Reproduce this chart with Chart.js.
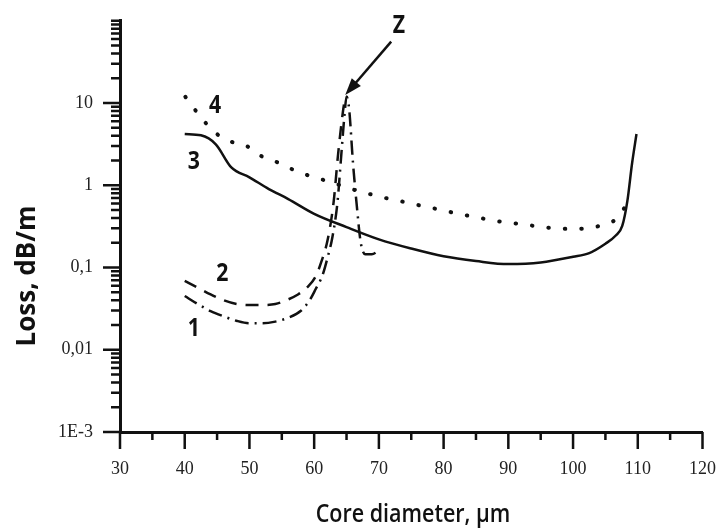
<!DOCTYPE html>
<html>
<head>
<meta charset="utf-8">
<script src="https://cdn.jsdelivr.net/npm/chart.js@4.4.1/dist/chart.umd.min.js"></script>
<style>
  html, body { margin: 0; padding: 0; background: #fff; }
  canvas { display: block; }
</style>
</head>
<body>
<canvas id="lossChart" width="725" height="528"></canvas>
<script>
// Curve 1 (dash-dot), goes through the resonance Z and comes back down
const core1 = [40, 42, 44, 46, 48, 50, 52, 54, 56, 58, 59.3, 60.2, 61.3, 62.1, 62.8, 63.6, 64.2, 64.7, 65.0, 65.4, 66.0, 66.6, 67.2, 67.9, 68.9, 70.0];
const loss1 = [0.045, 0.036, 0.0295, 0.0255, 0.0225, 0.021, 0.021, 0.022, 0.0245, 0.030, 0.040, 0.054, 0.081, 0.135, 0.23, 0.62, 2.4, 7.4, 12, 8.5, 1.86, 0.55, 0.2, 0.145, 0.145, 0.16];

// Curve 2 (dashed)
const core2 = [40, 42, 44, 46, 48, 50, 52, 54, 56, 57.5, 59, 60.2, 61.1, 62.1, 63.0, 63.7, 64.4, 64.8];
const loss2 = [0.069, 0.057, 0.047, 0.040, 0.036, 0.035, 0.035, 0.036, 0.041, 0.047, 0.058, 0.077, 0.117, 0.22, 0.62, 2.4, 7.4, 12];

// Curve 3 (solid)
const core3 = [40, 42.5, 44.8, 47.2, 50, 53, 56, 60, 65, 70, 75, 80, 85, 90, 95, 100, 102.5, 105, 106.6, 107.6, 108.4, 109.1, 109.8];
const loss3 = [4.2, 4.05, 3.15, 1.65, 1.25, 0.9, 0.68, 0.45, 0.31, 0.22, 0.17, 0.137, 0.12, 0.11, 0.115, 0.135, 0.15, 0.195, 0.245, 0.32, 0.65, 1.8, 4.2];

// Curve 4 (dotted)
const core4 = [40.1, 42.2, 44.5, 46.8, 49.4, 51.8, 54.4, 56.8, 59.3, 61.8, 66.6, 69.2, 71.7, 74.2, 76.7, 79.2, 81.7, 84.2, 86.7, 89.1, 91.6, 94.1, 96.6, 99.1, 101.6, 104, 106.6, 108.4];
const loss4 = [11.9, 7.2, 4.5, 3.47, 3.05, 2.27, 1.89, 1.54, 1.30, 1.14, 0.86, 0.76, 0.68, 0.62, 0.56, 0.51, 0.46, 0.42, 0.386, 0.358, 0.339, 0.32, 0.303, 0.295, 0.297, 0.32, 0.386, 0.6];

// Axis ticks
const xTickValues = [30, 40, 50, 60, 70, 80, 90, 100, 110, 120];
const xTickLabels = ['30', '40', '50', '60', '70', '80', '90', '100', '110', '120'];
const yTickValues = [0.001, 0.01, 0.1, 1, 10];
const yTickLabels = ['1E-3', '0,01', '0,1', '1', '10'];

// Curve labels and the arrow to the resonance, in data units
const curveNames = ['1', '2', '3', '4', 'Z'];
const curveNameX = [41.4, 45.8, 41.4, 44.7, 73.1];
const curveNameY = [0.0179, 0.0847, 1.95, 9.3, 87];
const arrowFrom = [71.9, 55.8];
const arrowTo = [64.8, 12.5];

function toPoints(xs, ys) {
    return xs.map((x, i) => ({ x: x, y: ys[i] }));
}

const ink = '#111';

const decorations = {
    id: 'decorations',
    afterDraw(chart) {
        const ctx = chart.ctx;
        const xs = chart.scales.x;
        const ys = chart.scales.y;
        const area = chart.chartArea;

        ctx.save();
        ctx.strokeStyle = ink;
        ctx.fillStyle = ink;
        ctx.lineWidth = 2.5;

        // tick marks outside the axes
        ctx.beginPath();
        for (let v = 30; v <= 120; v += 5) {
            const px = xs.getPixelForValue(v);
            const len = v % 10 === 0 ? 17 : 8;
            ctx.moveTo(px, area.bottom);
            ctx.lineTo(px, area.bottom + len);
        }
        for (let e = -3; e <= 2; e++) {
            for (let k = 1; k <= 9; k++) {
                const v = k * Math.pow(10, e);
                if (v > 100.0001) break;
                const py = ys.getPixelForValue(v);
                const len = (k === 1 && e < 2) ? 17 : 9;
                ctx.moveTo(area.left, py);
                ctx.lineTo(area.left - len, py);
            }
        }
        ctx.stroke();

        // curve names
        ctx.font = 'bold 25px "Open Sans", sans-serif';
        ctx.textAlign = 'center';
        ctx.textBaseline = 'middle';
        curveNames.forEach((t, i) => {
            ctx.save();
            ctx.translate(xs.getPixelForValue(curveNameX[i]), ys.getPixelForValue(curveNameY[i]));
            ctx.scale(0.85, 1);
            ctx.fillText(t, 0, 0);
            ctx.restore();
        });

        // arrow pointing at the resonance
        const x0 = xs.getPixelForValue(arrowFrom[0]);
        const y0 = ys.getPixelForValue(arrowFrom[1]);
        const x1 = xs.getPixelForValue(arrowTo[0]);
        const y1 = ys.getPixelForValue(arrowTo[1]);
        const ang = Math.atan2(y1 - y0, x1 - x0);
        const headLen = 17, headHalf = 6;
        ctx.lineWidth = 2.5;
        ctx.beginPath();
        ctx.moveTo(x0, y0);
        ctx.lineTo(x1 - Math.cos(ang) * headLen * 0.8, y1 - Math.sin(ang) * headLen * 0.8);
        ctx.stroke();
        ctx.beginPath();
        ctx.moveTo(x1, y1);
        ctx.lineTo(x1 - Math.cos(ang) * headLen - Math.sin(ang) * headHalf,
                   y1 - Math.sin(ang) * headLen + Math.cos(ang) * headHalf);
        ctx.lineTo(x1 - Math.cos(ang) * headLen + Math.sin(ang) * headHalf,
                   y1 - Math.sin(ang) * headLen - Math.cos(ang) * headHalf);
        ctx.closePath();
        ctx.fill();

        // axis titles
        ctx.font = '600 25px "Open Sans", sans-serif';
        ctx.textBaseline = 'alphabetic';
        ctx.save();
        ctx.translate(413, 522);
        ctx.scale(0.86, 1);
        ctx.fillText('Core diameter, \u00b5m', 0, 0);
        ctx.restore();

        ctx.save();
        ctx.translate(35, 276);
        ctx.rotate(-Math.PI / 2);
        ctx.font = 'bold 26px "Open Sans", sans-serif';
        ctx.fillText('Loss, dB/m', 0, 0);
        ctx.restore();

        ctx.restore();
    }
};

const lineBase = {
    pointRadius: 0,
    borderColor: ink,
    fill: false,
    cubicInterpolationMode: 'monotone'
};

const tickFont = { family: '"Liberation Serif", "Times New Roman", serif', size: 18 };

new Chart(document.getElementById('lossChart'), {
    type: 'line',
    data: {
        datasets: [
            Object.assign({}, lineBase, { label: '1', data: toPoints(core1, loss1), borderWidth: 2.5, borderDash: [14, 6, 2, 6] }),
            Object.assign({}, lineBase, { label: '2', data: toPoints(core2, loss2), borderWidth: 2.5, borderDash: [13, 9] }),
            Object.assign({}, lineBase, { label: '3', data: toPoints(core3, loss3), borderWidth: 2.5 }),
            Object.assign({}, lineBase, { label: '4', data: toPoints(core4, loss4), borderWidth: 4, borderDash: [0.5, 16], borderCapStyle: 'round' })
        ]
    },
    options: {
        responsive: false,
        animation: false,
        layout: { padding: { top: 17, right: 17, left: 0, bottom: 0 } },
        plugins: {
            legend: { display: false },
            tooltip: { enabled: false }
        },
        scales: {
            x: {
                type: 'linear',
                min: 30,
                max: 120,
                afterBuildTicks: scale => { scale.ticks = xTickValues.map(v => ({ value: v })); },
                afterFit: scale => { scale.height = 96; },
                grid: { drawOnChartArea: false, drawTicks: true, tickLength: 17, tickColor: 'rgba(0,0,0,0)' },
                border: { display: true, color: ink, width: 3 },
                ticks: {
                    autoSkip: false,
                    maxRotation: 0,
                    padding: 9,
                    color: '#222',
                    font: tickFont,
                    callback: (value, index) => xTickLabels[index]
                }
            },
            y: {
                type: 'logarithmic',
                min: 0.001,
                max: 100,
                afterBuildTicks: scale => { scale.ticks = yTickValues.map(v => ({ value: v })); },
                afterFit: scale => { scale.width = 120; },
                grid: { drawOnChartArea: false, drawTicks: true, tickLength: 17, tickColor: 'rgba(0,0,0,0)' },
                border: { display: true, color: ink, width: 3 },
                ticks: {
                    autoSkip: false,
                    padding: 10,
                    color: '#222',
                    font: tickFont,
                    callback: (value, index) => yTickLabels[index]
                }
            }
        }
    },
    plugins: [decorations]
});
</script>
</body>
</html>
